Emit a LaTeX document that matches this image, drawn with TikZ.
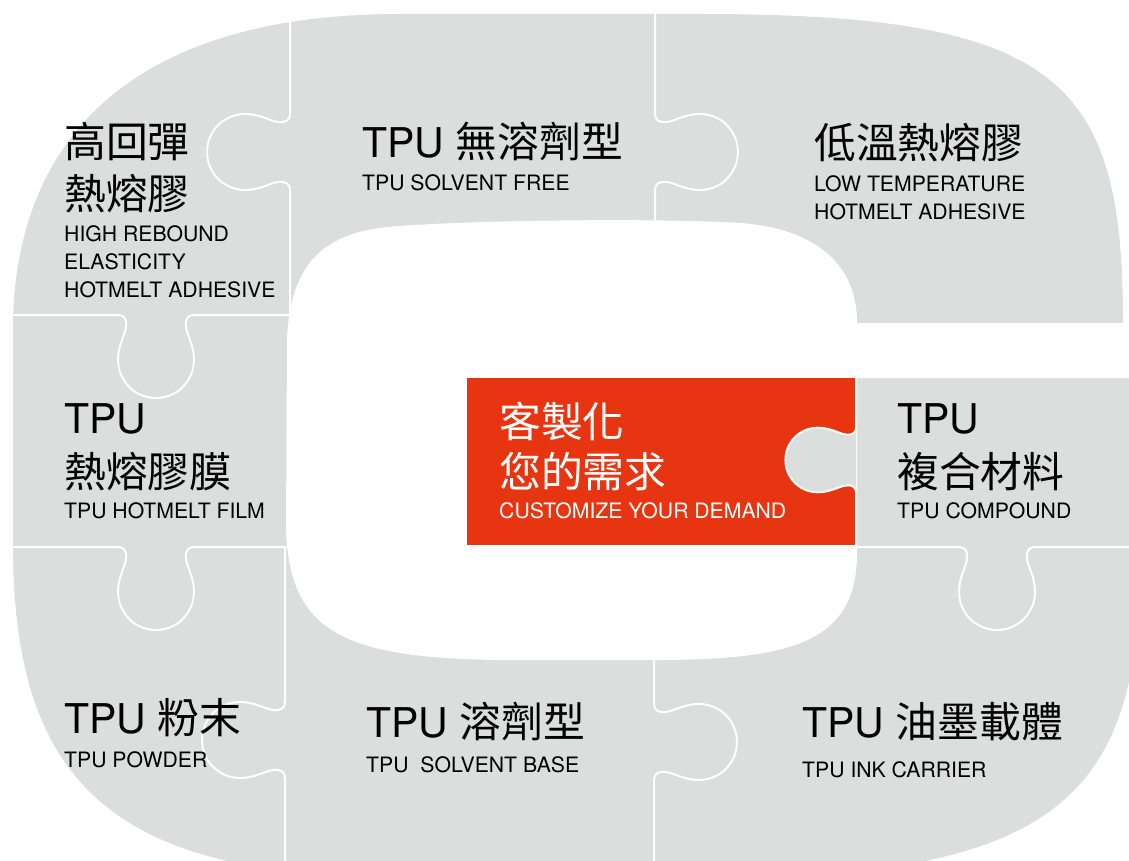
\documentclass[tikz,border=0pt]{standalone}
\usepackage{fontspec}
\setmainfont{TeX Gyre Heros}
\newfontfamily\cjk[Scale=1.02]{Noto Sans CJK TC}
\definecolor{puzgray}{RGB}{220,221,221}
\definecolor{puzred}{RGB}{231,52,17}
\tikzset{
  seam/.style={draw=white, line width=2pt, line cap=round, line join=round},
  bigtxt/.style={anchor=base west, inner sep=0pt, font=\fontsize{41}{41}\selectfont, text=black},
  smalltxt/.style={anchor=base west, inner sep=0pt, font=\fontsize{21.2}{21.2}\selectfont, text=black},
}
\newcommand\seamknob[6]{%
  \begin{scope}[shift={(#1,#2)},rotate=#3,scale=#6]
    \draw[seam] (-#4,0) -- (-38,0) .. controls (-32,0) and (-29,4) .. (-30,12)
      .. controls (-31,20) and (-38,30) .. (-38,45)
      .. controls (-38,66) and (-21,83) .. (0,83)
      .. controls (21,83) and (38,66) .. (38,45)
      .. controls (38,30) and (31,20) .. (30,12)
      .. controls (29,4) and (32,0) .. (38,0) -- (#5,0);
  \end{scope}}
\begin{document}
\begin{tikzpicture}[x=1pt,y=-1pt]
\useasboundingbox (0,0) rectangle (1129,861);
\clip (0,0) rectangle (1129,861);
\fill[white] (0,0) rectangle (1129,861);
% outer G body
\fill[puzgray] (13,330) .. controls (13,150) and (120,14) .. (400,14) -- (700,14)
  .. controls (1060,14) and (1123,80) .. (1123,323) -- (1140,323) -- (1140,560)
  .. controls (1140,790) and (1060,870) .. (750,878) -- (400,878)
  .. controls (120,876) and (13,790) .. (13,545) -- cycle;
% inner hole and slot
\fill[white] (287,340) .. controls (290,262) and (325,230) .. (400,226)
  .. controls (480,220) and (660,218) .. (740,223)
  .. controls (810,228) and (857,260) .. (857,323) -- (1150,323) -- (1150,378)
  -- (857,378) -- (857,545) .. controls (860,640) and (800,660) .. (654,660)
  -- (500,660) .. controls (340,658) and (290,630) .. (286,530) -- cycle;
% red centre piece
\fill[puzred] (467,378) rectangle (856,545);
\begin{scope}[shift={(856,460)},rotate=-90,scale=0.85]
  \fill[puzgray] (-38,0) .. controls (-32,0) and (-29,4) .. (-30,12)
      .. controls (-31,20) and (-38,30) .. (-38,45)
      .. controls (-38,66) and (-21,83) .. (0,83)
      .. controls (21,83) and (38,66) .. (38,45)
      .. controls (38,30) and (31,20) .. (30,12)
      .. controls (29,4) and (32,0) .. (38,0) -- cycle;
\end{scope}
% seams
\seamknob{290}{152}{-90}{142}{163}{1}
\seamknob{655}{152}{90}{73}{142}{1}
\seamknob{156}{315}{0}{151}{134}{1}
\seamknob{156}{547}{0}{151}{130}{1}
\seamknob{285}{740}{-90}{193}{130}{1}
\seamknob{654}{742}{90}{128}{87}{1}
\seamknob{997}{547}{0}{140}{143}{1}
\seamknob{856}{460}{-90}{96.5}{100}{0.85}
% texts A
\node[bigtxt] (a1) at (64,158) {\cjk 高回彈};
\node[bigtxt] (a2) at (64,210) {\cjk 熱熔膠};
\node[smalltxt] (a3) at (64,241) {HIGH REBOUND};
\node[smalltxt] (a4) at (64,269) {ELASTICITY};
\node[smalltxt] (a5) at (64,297) {HOTMELT ADHESIVE};
% B
\node[bigtxt] (b1) at (362,158) {TPU {\cjk 無溶劑型}};
\node[smalltxt] (b2) at (362,191) {TPU SOLVENT FREE};
% C
\node[bigtxt] (c1) at (814,159) {\cjk 低溫熱熔膠};
\node[smalltxt] (c2) at (814,192) {LOW TEMPERATURE};
\node[smalltxt] (c3) at (814,219) {HOTMELT ADHESIVE};
% D
\node[bigtxt] (d1) at (64,433) {TPU};
\node[bigtxt] (d2) at (64,487) {\cjk 熱熔膠膜};
\node[smalltxt] (d3) at (64,518) {TPU HOTMELT FILM};
% E
\node[bigtxt,text=white] (e1) at (499,437) {\cjk 客製化};
\node[bigtxt,text=white] (e2) at (499,487) {\cjk 您的需求};
\node[smalltxt,text=white] (e3) at (499,518) {CUSTOMIZE YOUR DEMAND};
% F
\node[bigtxt] (f1) at (897,433) {TPU};
\node[bigtxt] (f2) at (897,487) {\cjk 複合材料};
\node[smalltxt] (f3) at (897,518) {TPU COMPOUND};
% G
\node[bigtxt] (g1) at (64,733) {TPU {\cjk 粉末}};
\node[smalltxt] (g2) at (64,767) {TPU POWDER};
% H
\node[bigtxt] (h1) at (366,737) {TPU {\cjk 溶劑型}};
\node[smalltxt] (h2) at (366,772) {TPU\ \ SOLVENT BASE};
% I
\node[bigtxt] (i1) at (802,737) {TPU {\cjk 油墨載體}};
\node[smalltxt] (i2) at (802,777) {TPU INK CARRIER};
\end{tikzpicture}
\end{document}
